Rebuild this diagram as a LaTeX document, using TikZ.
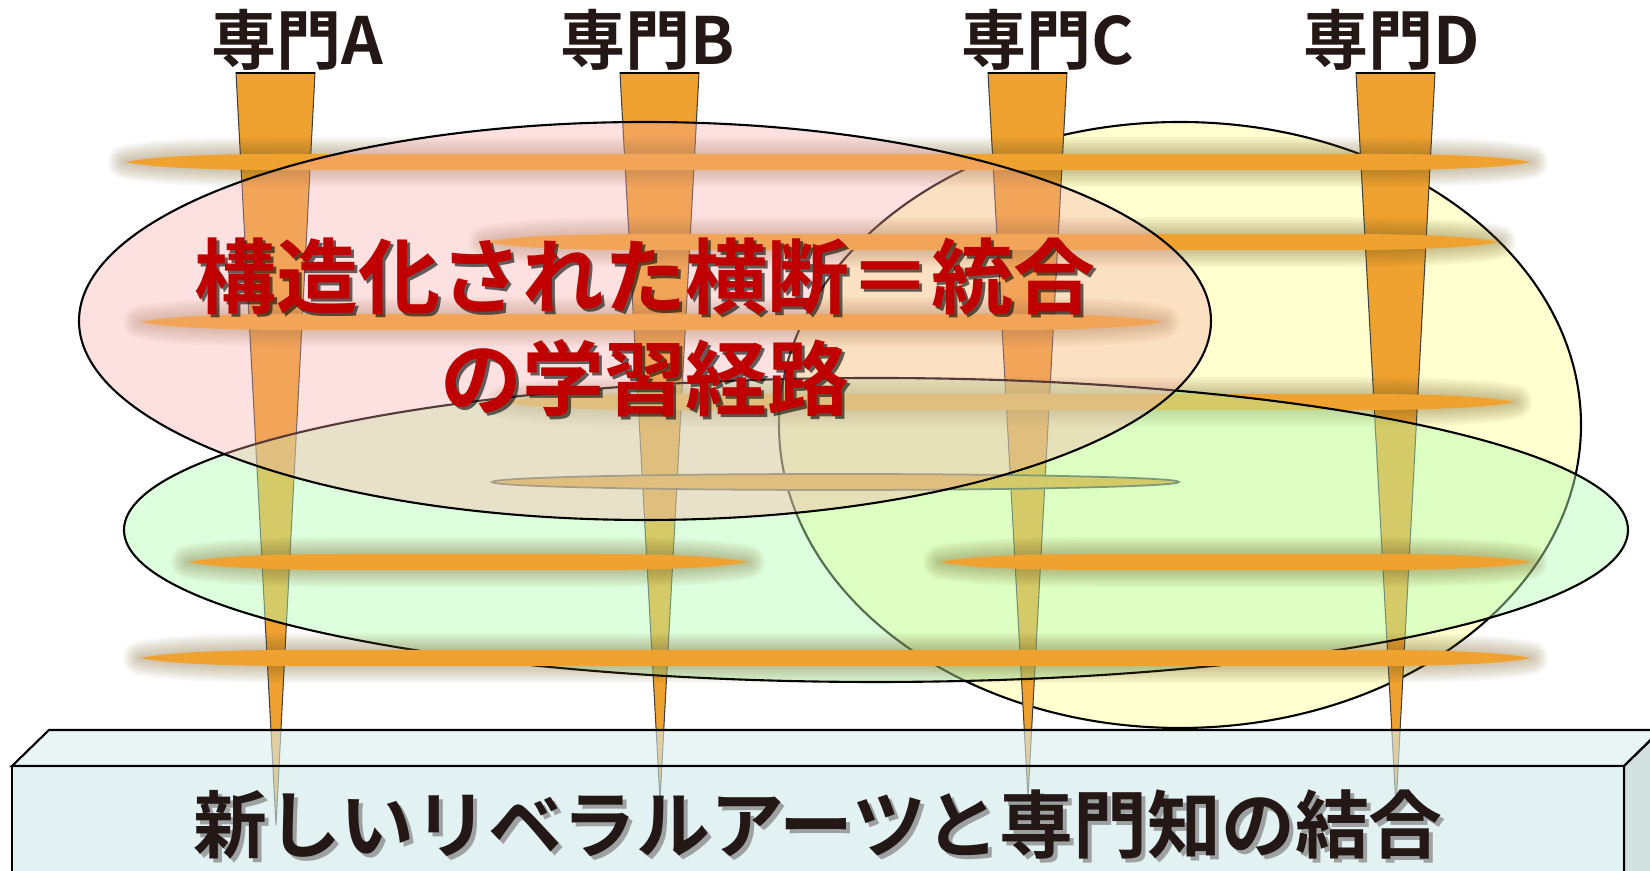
\documentclass[tikz,border=0pt]{standalone}
\usepackage{fontspec}
\newfontfamily\jp{Noto Sans CJK JP}[BoldFont={Noto Sans CJK JP Bold}]
\definecolor{barorange}{RGB}{239,162,47}
\definecolor{glowbrown}{RGB}{115,90,35}
\definecolor{pinkzone}{RGB}{249,168,168}
\definecolor{greenzone}{RGB}{178,255,178}
\definecolor{yellowzone}{RGB}{255,255,208}
\definecolor{boxfront}{RGB}{207,233,233}
\definecolor{boxtop}{RGB}{218,238,238}
\definecolor{boxside}{RGB}{180,203,203}
\definecolor{titlered}{RGB}{192,0,0}
\definecolor{inkdark}{RGB}{35,24,21}
% flat bar with tapered ends: left x, right x, y
\newcommand\barpath[3]{(#1,#3) .. controls ({#1+25},{#3-5}) and ({#1+70},{#3-8}) .. ({#1+160},{#3-8}) -- ({#2-160},{#3-8}) .. controls ({#2-70},{#3-8}) and ({#2-25},{#3-5}) .. (#2,#3) .. controls ({#2-25},{#3+5}) and ({#2-70},{#3+8}) .. ({#2-160},{#3+8}) -- ({#1+160},{#3+8}) .. controls ({#1+70},{#3+8}) and ({#1+25},{#3+5}) .. (#1,#3) -- cycle}
\tikzset{
	zone/.style={draw=black, line width=0.6pt},
	boxface/.style={draw=black, line width=0.6pt, fill opacity=0.6},
	glow/.style={draw=glowbrown, line join=round, opacity=0.05, line width=#1*1.2pt},
	headlabel/.style={font=\jp\bfseries\fontsize{18.5}{22}\selectfont, text=inkdark, anchor=base, inner sep=0pt},
	redtitle/.style={font=\jp\bfseries\fontsize{23.3}{28}\selectfont, text=titlered, anchor=base, inner sep=0pt},
	basetext/.style={font=\jp\bfseries\fontsize{21}{25}\selectfont, text=inkdark, anchor=base, inner sep=0pt}
}
\begin{document}
\begin{tikzpicture}[x=0.01cm, y=-0.01cm]
	\useasboundingbox (0,0) rectangle (1650,871);
	\clip (0,0) rectangle (1650,871);
	\filldraw[zone, fill=yellowzone] (1180,425) ellipse [x radius=401, y radius=303];
	\foreach \xl/\xr/\xt/\yt in {236/315/276/825, 620/699/660/800, 988/1067/1028/797, 1356/1435/1396/807}{
		\filldraw[fill=barorange, draw=black!75, line width=0.3pt] (\xl,73) -- (\xt,\yt) -- (\xr,73) -- cycle;
		\draw[line width=0.8pt] (\xl,73) -- (\xr,73);
	}
	\foreach \xl/\xr/\y in {125/1531/162, 485/1499/242, 140/1163/322, 503/1515/402}{
		\foreach \g in {1,...,8}
			\draw[glow=\g] \barpath{\xl}{\xr}{\y};
		\fill[barorange] \barpath{\xl}{\xr}{\y};
	}
	\filldraw[fill=barorange, draw=black!70, line width=0.5pt] (835.5,482) ellipse [x radius=343.5, y radius=8];
	\filldraw[zone, fill=greenzone, fill opacity=0.44] (876,530) ellipse [x radius=752, y radius=152];
	\filldraw[zone, fill=pinkzone, fill opacity=0.35] (645,321) ellipse [x radius=566, y radius=199];
	\foreach \xl/\xr/\y in {188/748/562, 940/1531/562, 140/1531/658}{
		\foreach \g in {1,...,8}
			\draw[glow=\g] \barpath{\xl}{\xr}{\y};
		\fill[barorange] \barpath{\xl}{\xr}{\y};
	}
	\node[redtitle, text=black, opacity=0.6] (pathtop-shadow) at (648,311) {構造化された横断＝統合};
	\node[redtitle] (pathtop) at (645,308) {構造化された横断＝統合};
	\node[redtitle, text=black, opacity=0.6] (pathbot-shadow) at (648,413) {の学習経路};
	\node[redtitle] (pathbot) at (645,410) {の学習経路};
	\filldraw[boxface, fill=boxtop] (12,766) -- (49,730) -- (1661,730) -- (1624,766) -- cycle;
	\filldraw[boxface, fill=boxside] (1624,766) -- (1661,730) -- (1661,900) -- (1624,900) -- cycle;
	\filldraw[boxface, fill=boxfront] (12,766) rectangle (1624,900);
	\node[basetext, text=gray, opacity=0.7] (base-shadow) at (822,857) {新しいリベラルアーツと専門知の結合};
	\node[basetext] (base) at (818,853) {新しいリベラルアーツと専門知の結合};
	\foreach \n/\x in {A/297, B/648, C/1048, D/1392}
		\node[headlabel] (head\n) at (\x,65) {専門\n};
\end{tikzpicture}
\end{document}
